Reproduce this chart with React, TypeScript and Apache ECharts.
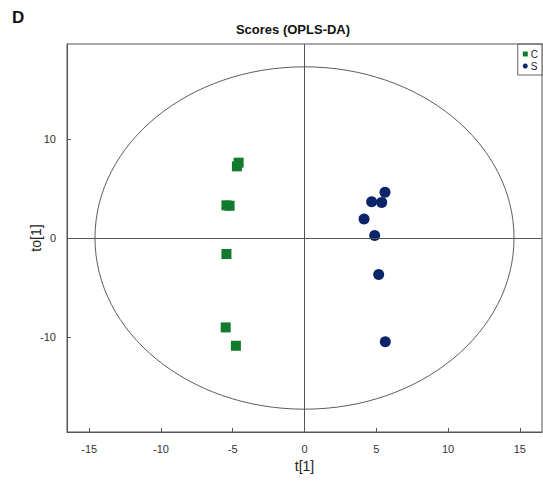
import React, { useEffect, useRef } from "react";
import * as echarts from "echarts";

const xTicks = [-15, -10, -5, 0, 5, 10, 15];
const yTicks = [-10, 0, 10];
const groupC: [number, number][] = [
  [-4.59, 7.59],
  [-4.71, 7.22],
  [-5.44, 3.29],
  [-5.22, 3.25],
  [-5.44, -1.61],
  [-5.49, -9.01],
  [-4.78, -10.86],
];
const groupS: [number, number][] = [
  [5.61, 4.6],
  [4.68, 3.66],
  [5.38, 3.59],
  [4.15, 1.91],
  [4.89, 0.26],
  [5.17, -3.67],
  [5.63, -10.45],
];
// Hotelling ellipse: centre and semi-axes
const ellipseParams = [[0, 0, 14.6, 17.25]];

const GREEN = "#127a2c";
const NAVY = "#0c2469";
const FONT = "Liberation Sans, Arial, sans-serif";

export default function App() {
  const ref = useRef<HTMLDivElement>(null);
  useEffect(() => {
    if (!ref.current) return;
    const chart = echarts.init(ref.current, null, { renderer: "svg" });
    chart.setOption({
      animation: false,
      backgroundColor: "#fff",
      textStyle: { fontFamily: FONT },
      title: {
        text: "Scores (OPLS-DA)",
        left: 288,
        top: 18,
        textAlign: "center",
        textStyle: { fontSize: 13, fontWeight: "bold", color: "#111", fontFamily: FONT },
      },
      graphic: [
        {
          type: "text",
          left: 12,
          top: 9,
          style: { text: "D", fontSize: 17, fontWeight: "bold", fill: "#111", fontFamily: FONT },
        },
      ],
      legend: {
        orient: "vertical",
        right: 0,
        top: 44,
        borderColor: "#666",
        borderWidth: 1,
        borderRadius: 0,
        padding: [5, 5, 4, 5],
        itemGap: 2,
        itemWidth: 5,
        itemHeight: 5,
        textStyle: { fontSize: 10, color: "#222", padding: [0, 0, 0, -2] },
        data: [
          { name: "C", icon: "rect" },
          { name: "S", icon: "circle" },
        ],
      },
      grid: {
        left: 67,
        right: 1,
        top: 44,
        bottom: 54,
        show: true,
        borderColor: "#555",
        borderWidth: 1,
      },
      xAxis: {
        type: "value",
        min: -16.55,
        max: 16.55,
        name: "t[1]",
        nameLocation: "middle",
        nameGap: 27,
        nameMoveOverlap: false,
        nameTextStyle: { fontSize: 14, color: "#222", fontFamily: FONT },
        axisLine: { onZero: false, lineStyle: { color: "#555" } },
        axisTick: { inside: true, length: 4, customValues: xTicks, lineStyle: { color: "#555" } },
        axisLabel: { customValues: xTicks, margin: 11, fontSize: 11, color: "#333", fontFamily: FONT },
        splitLine: { show: false },
      },
      yAxis: {
        type: "value",
        min: -19.55,
        max: 19.55,
        name: "to[1]",
        nameLocation: "middle",
        nameGap: 24,
        nameMoveOverlap: false,
        nameTextStyle: { fontSize: 14, color: "#222", fontFamily: FONT },
        axisLine: { onZero: false, lineStyle: { color: "#555" } },
        axisTick: { inside: true, length: 4, customValues: yTicks, lineStyle: { color: "#555" } },
        axisLabel: { customValues: yTicks, margin: 11, fontSize: 11, color: "#333", fontFamily: FONT },
        splitLine: { show: false },
      },
      series: [
        {
          type: "custom",
          name: "ellipse",
          silent: true,
          data: ellipseParams,
          renderItem: (params: any, api: any) => {
            const c = api.coord([api.value(0), api.value(1)]);
            const s = api.size([api.value(2), api.value(3)]);
            return {
              type: "ellipse",
              shape: { cx: c[0], cy: c[1], rx: s[0], ry: s[1] },
              style: { fill: "none", stroke: "#333", lineWidth: 0.8 },
            };
          },
          markLine: {
            silent: true,
            symbol: "none",
            label: { show: false },
            lineStyle: { color: "#555", type: "solid", width: 1 },
            data: [{ xAxis: 0 }, { yAxis: 0 }],
          },
          z: 1,
        },
        {
          type: "scatter",
          name: "C",
          symbol: "rect",
          symbolSize: 10,
          itemStyle: { color: GREEN, opacity: 1 },
          data: groupC,
          z: 3,
        },
        {
          type: "scatter",
          name: "S",
          symbol: "circle",
          symbolSize: 11,
          itemStyle: { color: NAVY, opacity: 1 },
          data: groupS,
          z: 3,
        },
      ],
    });
    return () => chart.dispose();
  }, []);
  return (
    <div
      ref={ref}
      style={{ position: "fixed", left: 0, top: 0, width: 543, height: 486, background: "#fff" }}
    />
  );
}
